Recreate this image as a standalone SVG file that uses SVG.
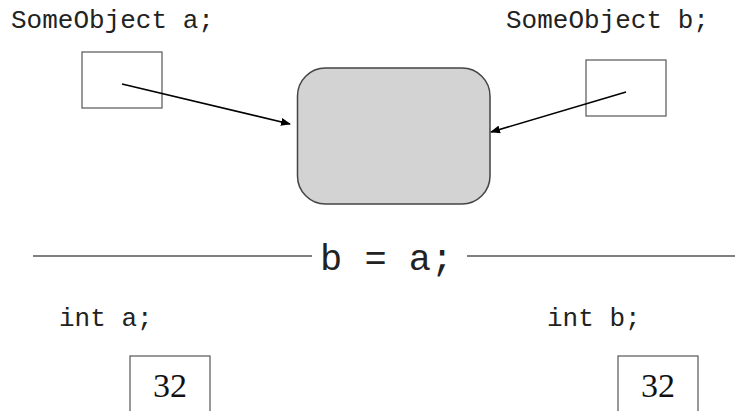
<svg xmlns="http://www.w3.org/2000/svg" width="735" height="411" viewBox="0 0 735 411">
<defs>
<marker id="ah" markerWidth="10" markerHeight="8" refX="9" refY="4" orient="auto" markerUnits="userSpaceOnUse">
<path d="M0,0 L10,4 L0,8 Z" fill="#000"/>
</marker>
<style>
.code{font-family:"Liberation Mono","Courier New",monospace;fill:#222;}
.num{font-family:"Liberation Serif","Times New Roman",serif;fill:#111;font-size:34px;}
.box{fill:#fff;stroke:#555;stroke-width:1.2;}
.conn{stroke:#000;stroke-width:1.6;fill:none;}
.rule{stroke:#555;stroke-width:1.5;}
</style>
</defs>
<rect width="735" height="411" fill="#fff"/>
<g id="objA">
<text class="code" x="11" y="28" font-size="26">SomeObject a;</text>
<rect class="box" x="82" y="52" width="80" height="56"/>
</g>
<g id="objB">
<text class="code" x="506" y="28" font-size="26">SomeObject b;</text>
<rect class="box" x="586" y="60" width="80" height="56"/>
</g>
<g id="object">
<rect x="297.5" y="68" width="192.5" height="136" rx="28" ry="28" fill="#d3d3d3" stroke="#444" stroke-width="1.5"/>
</g>
<g id="connectors">
<line class="conn" x1="122" y1="84" x2="290" y2="124" marker-end="url(#ah)"/>
<line class="conn" x1="626" y1="92" x2="491" y2="132" marker-end="url(#ah)"/>
</g>
<g id="divider">
<line class="rule" x1="33" y1="256" x2="312" y2="256"/>
<line class="rule" x1="467" y1="256" x2="735" y2="256"/>
<text class="code" x="320" y="270" font-size="37">b = a;</text>
</g>
<g id="intA">
<text class="code" x="59" y="326" font-size="26">int a;</text>
<rect class="box" x="130" y="356" width="80" height="70"/>
<text class="num" x="170" y="397" text-anchor="middle">32</text>
</g>
<g id="intB">
<text class="code" x="547" y="326" font-size="26">int b;</text>
<rect class="box" x="618" y="356" width="80" height="70"/>
<text class="num" x="658" y="397" text-anchor="middle">32</text>
</g>
</svg>
